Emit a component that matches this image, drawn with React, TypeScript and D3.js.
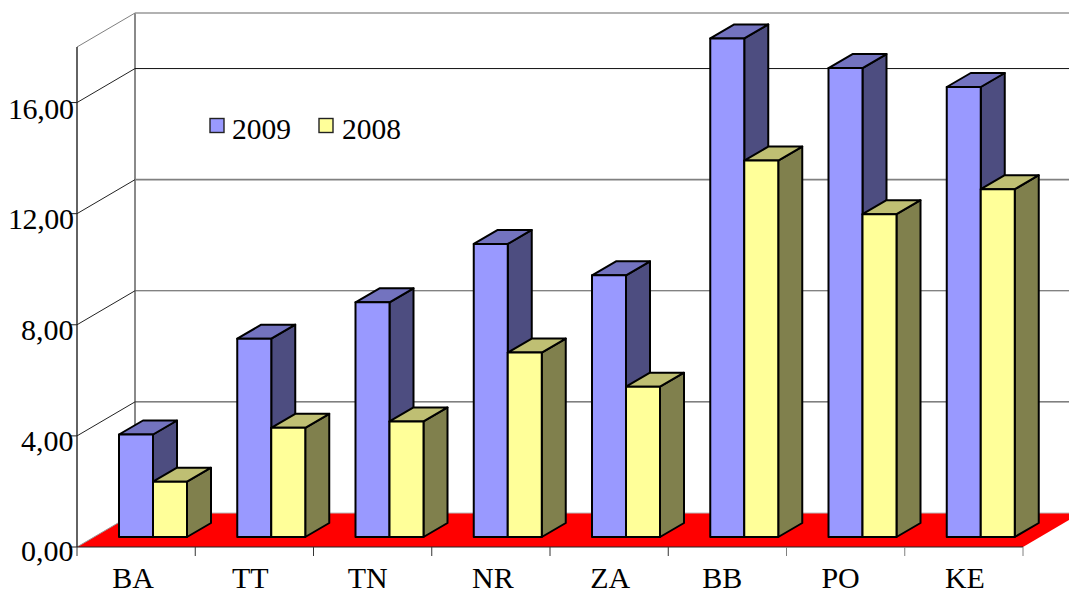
import React from "react";
import { scaleLinear, scaleBand, line } from "d3";

const categories = ["BA", "TT", "TN", "NR", "ZA", "BB", "PO", "KE"];
const values2009 = [3.69, 7.14, 8.45, 10.55, 9.42, 17.95, 16.88, 16.2];
const values2008 = [1.99, 3.93, 4.16, 6.64, 5.41, 13.55, 11.62, 12.52];
const yTicks = [0, 4, 8, 12, 16];
const gridValues = [4, 8, 12, 16, 18];
const gridColors = ["#333", "#555", "#808080", "#111", "#999"];
// the original's category labels are not evenly placed
const labelShift = [0, -1, -2, 5, 4, -2, -2, 4];

const FONT = "'Liberation Serif', 'Times New Roman', serif";

const seriesList = [
  { name: "2009", values: values2009, front: "#9999ff", top: "#7373bf", side: "#4d4d80" },
  { name: "2008", values: values2008, front: "#ffff99", top: "#bfbf73", side: "#80804d" },
];

// front plane of the 3D box, the back wall is the same thing shifted by depth
const y = scaleLinear().domain([0, 18]).range([547, 47]);
const x = scaleBand().domain(categories).range([77, 1023]);
const depthX = 58;
const depthY = -34;

// bars stand a bit inside the floor
const barInY = -10;
const barDepthX = 24;
const barDepthY = -14;
const barWidth = 34;

const path = line();

function Bar({ px, value, s }: any) {
  const bottom = y(0) + barInY;
  const top = bottom - (y(0) - y(value));
  const right = px + barWidth;
  const frontPts: any = [[px, top], [right, top], [right, bottom], [px, bottom]];
  const topPts: any = [[px, top], [px + barDepthX, top + barDepthY], [right + barDepthX, top + barDepthY], [right, top]];
  const sidePts: any = [[right, top], [right + barDepthX, top + barDepthY], [right + barDepthX, bottom + barDepthY], [right, bottom]];
  const common = { stroke: "#000", strokeWidth: 2, strokeLinejoin: "round" as const };
  return (
    <g>
      <path d={path(sidePts) + "Z"} fill={s.side} {...common} />
      <path d={path(topPts) + "Z"} fill={s.top} {...common} />
      <path d={path(frontPts) + "Z"} fill={s.front} {...common} />
    </g>
  );
}

export default function App() {
  const left = 77;
  const right = 1023;
  const y0 = y(0);
  const floorPts: any = [[left, y0], [right, y0], [right + depthX, y0 + depthY], [left + depthX, y0 + depthY]];

  return (
    <svg width={1069} height={592} style={{ position: "absolute", left: 0, top: 0 }} fontFamily={FONT}>
      <rect width={1069} height={592} fill="#fff" />

      {/* back wall and left wall */}
      <line x1={left + depthX} x2={left + depthX} y1={y(18) + depthY} y2={y(0) + depthY} stroke="#8a8a8a" strokeWidth={2} />
      {gridValues.map((v, i) => (
        <g key={v}>
          <line x1={left + depthX} x2={1069} y1={y(v) + depthY} y2={y(v) + depthY} stroke={gridColors[i]} strokeWidth={v === 18 || v === 12 ? 1.6 : 1} />
          <line x1={left} x2={left + depthX} y1={y(v)} y2={y(v) + depthY} stroke={v === 18 ? "#808080" : "#222"} strokeWidth={1} />
        </g>
      ))}

      <path d={path(floorPts) + "Z"} fill="#ff0000" />
      <line x1={left} x2={left + depthX} y1={y0} y2={y0 + depthY} stroke="#999" strokeWidth={1} />
      <line x1={left + depthX} x2={1069} y1={y0 + depthY} y2={y0 + depthY} stroke="#bbb" strokeWidth={1} />

      {/* front axes */}
      <line x1={left} x2={left} y1={y(18)} y2={y0} stroke="#222" strokeWidth={1.4} />
      {yTicks.map((v) => (
        <line key={v} x1={left - 8} x2={left} y1={y(v)} y2={y(v)} stroke="#222" strokeWidth={1} />
      ))}
      <line x1={left} x2={right} y1={y0} y2={y0} stroke="#222" strokeWidth={1} />
      {[...categories.map((c) => x(c) as number), right].map((t, i) => (
        <line key={i} x1={t} x2={t} y1={y0} y2={y0 + 9} stroke={i < 6 ? "#333" : "#808080"} strokeWidth={1} />
      ))}

      {yTicks.map((v) => (
        <text key={v} x={73.5} y={y(v) + (v === 16 ? 16 : v === 0 ? 14 : 15)} textAnchor="end" fontSize={30} letterSpacing={v > 9 ? -0.4 : 0} fill="#000">
          {v.toFixed(2).replace(".", ",")}
        </text>
      ))}
      {categories.map((c, i) => (
        <text key={c} x={(x(c) as number) + x.bandwidth() / 2 - 3 + labelShift[i]} y={588} textAnchor="middle" fontSize={30} fill="#000">
          {c}
        </text>
      ))}

      {/* bars */}
      {categories.map((c, i) => (
        <g key={c}>
          {seriesList.map((s, k) => (
            <Bar key={s.name} px={(x(c) as number) + 42 + k * barWidth} value={s.values[i]} s={s} />
          ))}
        </g>
      ))}

      {/* legend */}
      {seriesList.map((s, k) => (
        <g key={s.name}>
          <rect x={210 + k * 109} y={118.5} width={14} height={14} fill={s.front} stroke="#222" strokeWidth={1.4} />
          <text x={232 + k * 110} y={138.5} fontSize={29.5} fill="#000">{s.name}</text>
        </g>
      ))}
    </svg>
  );
}
